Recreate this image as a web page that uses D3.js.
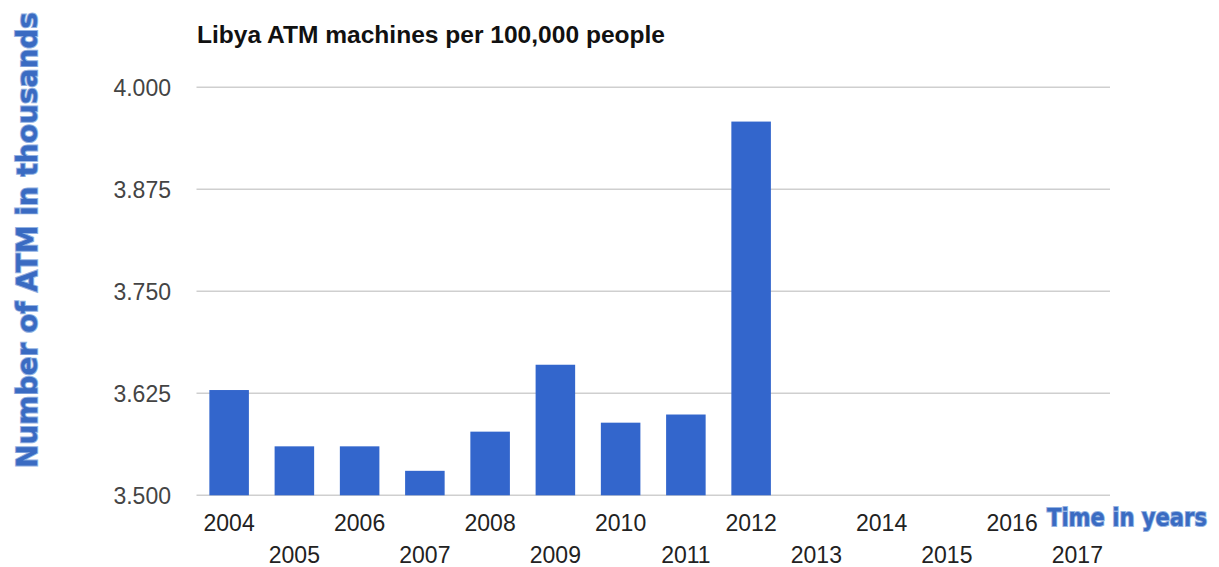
<!DOCTYPE html>
<html>
<head>
<meta charset="utf-8">
<script src="https://cdn.jsdelivr.net/npm/d3@7"></script>
<style>
  html, body { margin: 0; padding: 0; background: #fff; }
  svg { display: block; }
</style>
</head>
<body>
<svg id="chart" width="1219" height="567"></svg>
<script>
const years = ["2004","2005","2006","2007","2008","2009","2010","2011","2012","2013","2014","2015","2016","2017"];
const atmValues = [3.629, 3.560, 3.560, 3.530, 3.578, 3.660, 3.589, 3.599, 3.958, null, null, null, null, null];
const yTicks = [3.5, 3.625, 3.75, 3.875, 4.0];
const yTickLabels = ["3.500", "3.625", "3.750", "3.875", "4.000"];
const chartTitle = "Libya ATM machines per 100,000 people";
const yTitle = "Number of ATM in thousands";
const xTitle = "Time in years";

const svg = d3.select("#chart");
const plotLeft = 196.5, plotRight = 1110, plotTop = 87.3, plotBottom = 495.3;

const x = d3.scaleBand().domain(years).range([plotLeft, plotRight])
  .paddingInner(0.394).paddingOuter(0.197);
const y = d3.scaleLinear().domain([3.5, 4.0]).range([plotBottom, plotTop]);

// gridlines
svg.append("g").selectAll("line").data(yTicks).join("line")
  .attr("x1", plotLeft).attr("x2", plotRight)
  .attr("y1", d => y(d)).attr("y2", d => y(d))
  .attr("stroke", "#cfcfcf").attr("stroke-width", 1.6);

// y tick labels
svg.append("g").selectAll("text").data(yTicks).join("text")
  .attr("x", 171).attr("y", d => y(d) + 8.5)
  .attr("text-anchor", "end")
  .attr("font-family", "Liberation Sans, Arial, sans-serif")
  .attr("font-size", 23).attr("fill", "#444")
  .text((d, i) => yTickLabels[i]);

// bars
svg.append("g").selectAll("rect")
  .data(years.map((yr, i) => ({yr, v: atmValues[i]})).filter(d => d.v != null))
  .join("rect")
  .attr("x", d => x(d.yr)).attr("width", x.bandwidth())
  .attr("y", d => y(d.v)).attr("height", d => y(3.5) - y(d.v))
  .attr("fill", "#3366cc");

// x tick labels (staggered)
svg.append("g").selectAll("text").data(years).join("text")
  .attr("x", d => x(d) + x.bandwidth() / 2)
  .attr("y", (d, i) => i % 2 === 0 ? 531 : 563)
  .attr("text-anchor", "middle")
  .attr("font-family", "Liberation Sans, Arial, sans-serif")
  .attr("font-size", 23).attr("fill", "#222")
  .text(d => d);

// title
svg.append("text")
  .attr("x", 197).attr("y", 43)
  .attr("font-family", "Liberation Sans, Arial, sans-serif")
  .attr("font-weight", "bold").attr("font-size", 24.5).attr("fill", "#111")
  .attr("textLength", 468).attr("lengthAdjust", "spacingAndGlyphs")
  .text(chartTitle);

// axis titles
svg.append("text")
  .attr("transform", "translate(37,240) rotate(-90)")
  .attr("text-anchor", "middle")
  .attr("font-family", "DejaVu Sans, sans-serif")
  .attr("font-weight", "bold").attr("font-size", 29)
  .attr("fill", "#3a6bc2").attr("stroke", "#93b3e3").attr("stroke-width", 2)
  .attr("paint-order", "stroke")
  .attr("textLength", 456).attr("lengthAdjust", "spacingAndGlyphs")
  .text(yTitle);

svg.append("text")
  .attr("x", 1127).attr("y", 526)
  .attr("text-anchor", "middle")
  .attr("font-family", "DejaVu Sans, sans-serif")
  .attr("font-weight", "bold").attr("font-size", 25)
  .attr("fill", "#3a6bc2").attr("stroke", "#93b3e3").attr("stroke-width", 2)
  .attr("paint-order", "stroke")
  .attr("textLength", 160).attr("lengthAdjust", "spacingAndGlyphs")
  .text(xTitle);
</script>
</body>
</html>
